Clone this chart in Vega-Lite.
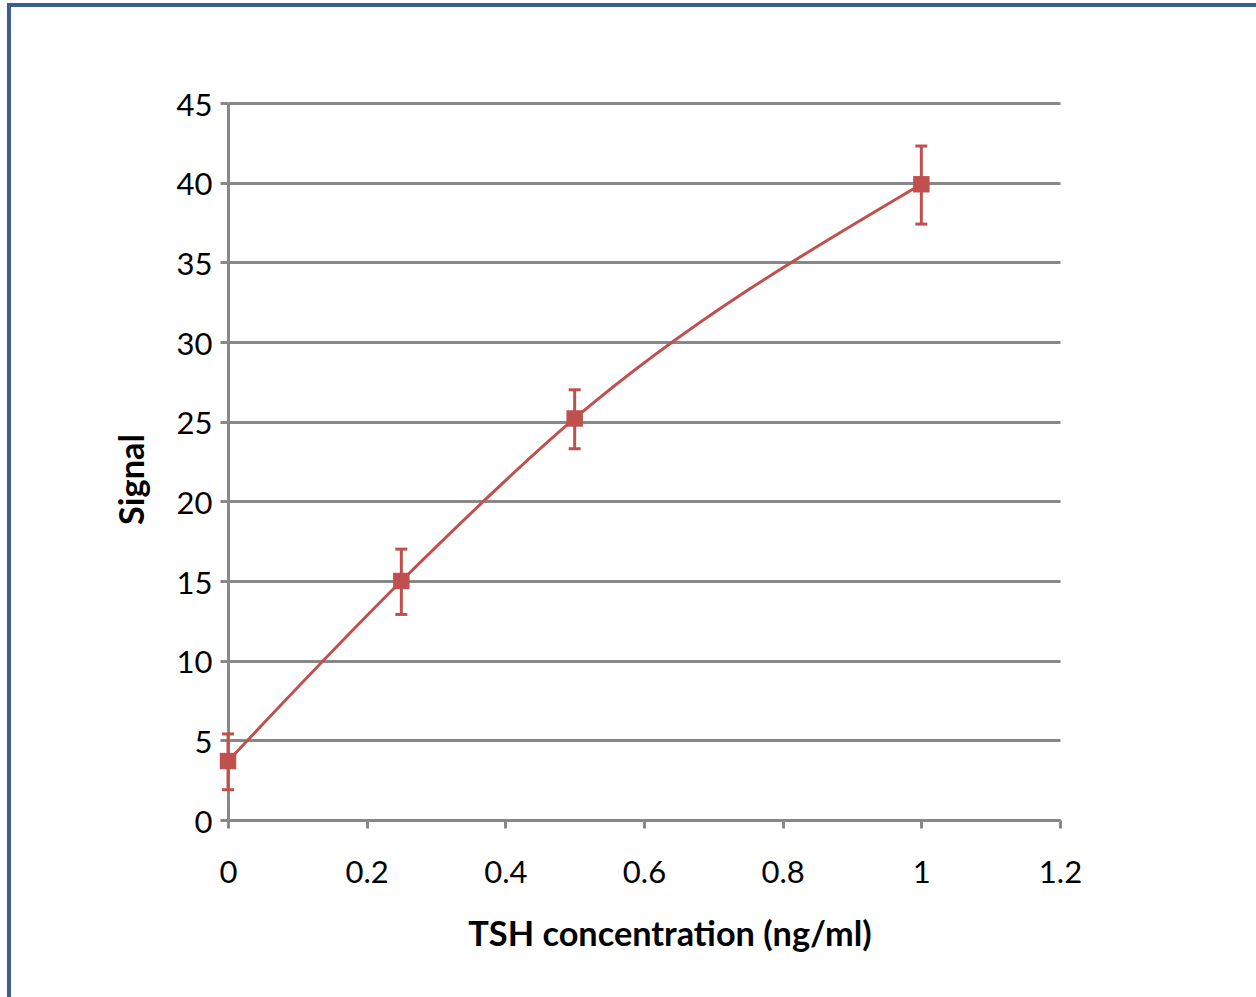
{
  "$schema": "https://vega.github.io/schema/vega-lite/v6.json",
  "width": 832,
  "height": 717,
  "autosize": {"type": "none"},
  "padding": {"left": 228, "top": 103, "right": 196, "bottom": 177},
  "background": "white",
  "config": {
    "view": {"stroke": null},
    "font": "Lato",
    "axis": {
      "labelFont": "Lato",
      "labelFontSize": 31,
      "labelColor": "#000000",
      "labelFlush": false,
      "labelOverlap": false,
      "titleFont": "Lato",
      "titleFontSize": 34.3,
      "titleFontWeight": "bold",
      "titleColor": "#000000",
      "domainColor": "#888888",
      "domainWidth": 3,
      "tickColor": "#888888",
      "tickWidth": 3,
      "tickSize": 8,
      "gridColor": "#888888",
      "gridWidth": 3
    }
  },
  "datasets": {
    "pts": [
      {"conc": 0, "signal": 3.7, "lo": 1.9, "hi": 5.4},
      {"conc": 0.25, "signal": 15.0, "lo": 12.9, "hi": 17.0},
      {"conc": 0.5, "signal": 25.2, "lo": 23.3, "hi": 27.0},
      {"conc": 1, "signal": 39.9, "lo": 37.4, "hi": 42.3}
    ]
  },
  "layer": [
    {
      "data": {"values": [{"frame": 1}]},
      "mark": {"type": "rect", "fill": null, "stroke": "#3A5F8E", "strokeWidth": 4, "clip": false},
      "encoding": {
        "x": {"datum": -0.3159, "type": "quantitative", "scale": {"domain": [0, 1.2], "nice": false}},
        "x2": {"datum": 1.6},
        "y": {"datum": 51.15, "type": "quantitative", "scale": {"domain": [0, 45], "nice": false}},
        "y2": {"datum": -15}
      }
    },
    {
      "data": {"name": "pts"},
      "mark": {"type": "line", "interpolate": "monotone", "color": "#C0504D", "strokeWidth": 3},
      "encoding": {
        "x": {
          "field": "conc", "type": "quantitative",
          "scale": {"domain": [0, 1.2], "nice": false},
          "axis": {
            "title": "TSH concentration (ng/ml)",
            "values": [0, 0.2, 0.4, 0.6, 0.8, 1, 1.2],
            "format": "~g",
            "grid": false,
            "labelBaseline": "alphabetic",
            "labelPadding": 54,
            "titleX": 441.5,
            "titleY": 125,
            "titleBaseline": "alphabetic",
            "titleAnchor": null
          }
        },
        "y": {
          "field": "signal", "type": "quantitative",
          "scale": {"domain": [0, 45], "nice": false},
          "axis": {
            "title": "Signal",
            "values": [0, 5, 10, 15, 20, 25, 30, 35, 40, 45],
            "grid": true,
            "labelPadding": 8,
            "labelOffset": 3,
            "titleX": -85,
            "titleY": 376,
            "titleBaseline": "alphabetic",
            "titleAngle": 270
          }
        }
      }
    },
    {
      "data": {"name": "pts"},
      "mark": {"type": "rule", "color": "#C0504D", "strokeWidth": 3},
      "encoding": {
        "x": {"field": "conc", "type": "quantitative"},
        "y": {"field": "lo", "type": "quantitative"},
        "y2": {"field": "hi"}
      }
    },
    {
      "data": {"name": "pts"},
      "mark": {"type": "tick", "orient": "horizontal", "color": "#C0504D", "size": 12, "thickness": 3, "opacity": 1},
      "encoding": {
        "x": {"field": "conc", "type": "quantitative"},
        "y": {"field": "lo", "type": "quantitative"}
      }
    },
    {
      "data": {"name": "pts"},
      "mark": {"type": "tick", "orient": "horizontal", "color": "#C0504D", "size": 12, "thickness": 3, "opacity": 1},
      "encoding": {
        "x": {"field": "conc", "type": "quantitative"},
        "y": {"field": "hi", "type": "quantitative"}
      }
    },
    {
      "data": {"name": "pts"},
      "mark": {"type": "point", "shape": "square", "filled": true, "color": "#C0504D", "size": 270, "opacity": 1},
      "encoding": {
        "x": {"field": "conc", "type": "quantitative"},
        "y": {"field": "signal", "type": "quantitative"}
      }
    }
  ]
}
